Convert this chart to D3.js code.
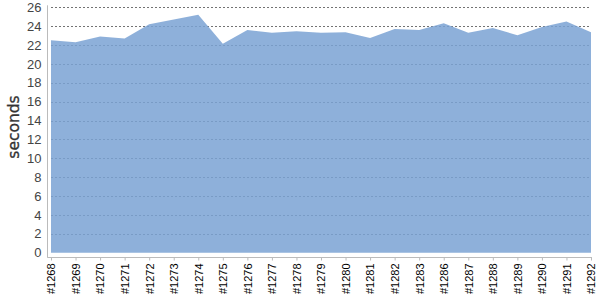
<!DOCTYPE html>
<html>
<head>
<meta charset="utf-8">
<script src="https://cdn.jsdelivr.net/npm/d3@7"></script>
<style>
  body { margin: 0; background: #fff; }
  svg { display: block; font-family: "DejaVu Sans", sans-serif; }
</style>
</head>
<body>
<div id="chart"></div>
<script>
// builds and their times
var builds = ["#1268", "#1269", "#1270", "#1271", "#1272", "#1273", "#1274", "#1275",
  "#1276", "#1277", "#1278", "#1279", "#1280", "#1281", "#1282", "#1283",
  "#1286", "#1287", "#1288", "#1289", "#1290", "#1291", "#1292"];
var seconds = [22.5, 22.3, 22.9, 22.7, 24.2, 24.7, 25.2, 22.15,
  23.6, 23.3, 23.45, 23.3, 23.35, 22.75, 23.7, 23.6,
  24.3, 23.3, 23.8, 23.05, 23.9, 24.5, 23.35];
var yTicks = [0, 2, 4, 6, 8, 10, 12, 14, 16, 18, 20, 22, 24, 26];

var width = 600, height = 300;
var plotLeft = 51, plotRight = 591, plotTop = 7.3, plotBottom = 252.7;

var svg = d3.select("#chart").append("svg")
  .attr("width", width)
  .attr("height", height);

var x = d3.scalePoint()
  .domain(builds)
  .range([plotLeft, plotRight]);

var y = d3.scaleLinear()
  .domain([0, 26])
  .range([plotBottom, plotTop]);

// dotted grid, behind the area
svg.append("g")
  .selectAll("line")
  .data(yTicks.filter(function(d) { return d > 0; }))
  .enter()
  .append("line")
    .attr("x1", plotLeft)
    .attr("x2", plotRight)
    .attr("y1", function(d) { return Math.round(y(d)) + 0.5; })
    .attr("y2", function(d) { return Math.round(y(d)) + 0.5; })
    .attr("stroke", "#000")
    .attr("stroke-opacity", 0.55)
    .attr("stroke-dasharray", "2,2");

// area, slightly see-through so the grid shows
svg.append("path")
  .datum(seconds)
  .attr("fill", "#7aa2d3")
  .attr("fill-opacity", 0.85)
  .attr("d", d3.area()
    .x(function(d, i) { return x(builds[i]); })
    .y0(y(0))
    .y1(function(d) { return y(d); }));

// y axis
var yAxis = svg.append("g")
  .attr("transform", "translate(47.5,0)")
  .call(d3.axisLeft(y).tickValues(yTicks).tickSize(0).tickPadding(6));
yAxis.select(".domain").attr("stroke", "#bbb").attr("d", "M0," + (plotTop - 2) + "V" + (plotBottom + 5));
yAxis.selectAll("text")
  .attr("fill", "#444")
  .style("font-size", "13px");

// x axis
var xAxis = svg.append("g")
  .attr("transform", "translate(0,257.5)")
  .call(d3.axisBottom(x).tickSize(3).tickSizeOuter(0));
xAxis.select(".domain").attr("stroke", "#bbb").attr("d", "M47.5,0H" + (plotRight + 1));
xAxis.selectAll(".tick line").attr("stroke", "#bbb");
xAxis.selectAll("text")
  .attr("fill", "#000")
  .style("font-size", "11px")
  .attr("text-anchor", "end")
  .attr("transform", "rotate(-90)")
  .attr("x", -6)
  .attr("y", 0)
  .attr("dy", "0.35em");

// axis title
svg.append("text")
  .attr("transform", "translate(19,127) rotate(-90)")
  .attr("text-anchor", "middle")
  .attr("fill", "#333")
  .style("font-size", "15.5px")
  .style("font-weight", "500")
  .style("stroke", "#333")
  .style("stroke-width", "0.3px")
  .text("seconds");
</script>
</body>
</html>
